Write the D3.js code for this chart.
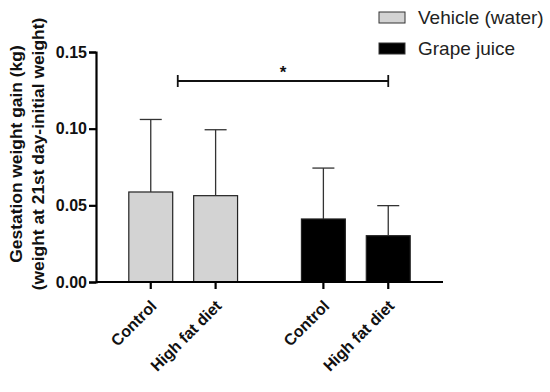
<!DOCTYPE html>
<html>
<head>
<meta charset="utf-8">
<script src="https://cdn.jsdelivr.net/npm/d3@7"></script>
<style>
  body { margin: 0; background: #fff; }
  svg text { font-family: "Liberation Sans", Arial, sans-serif; }
</style>
</head>
<body>
<svg id="chart" width="550" height="392"></svg>
<script>
// data
const groups = ['Vehicle (water)', 'Grape juice'];
const categories = ['Control', 'High fat diet'];
const means = [0.0587, 0.0563, 0.0411, 0.0302];
const sds = [0.0473, 0.0430, 0.0332, 0.0196];
const yTicks = [0.00, 0.05, 0.10, 0.15];
const groupColors = ['#d3d3d3', '#000000'];

const svg = d3.select('#chart');
const margin = { top: 52, left: 96, bottom: 110, right: 107 };
const width = 550 - margin.left - margin.right;
const height = 392 - margin.top - margin.bottom;

const chart = svg.append('g')
  .attr('transform', `translate(${margin.left},${margin.top})`);

const bars = [];
groups.forEach((g, gi) => categories.forEach((c, ci) => {
  bars.push({ group: g, gi: gi, label: c, mean: means[gi * 2 + ci], sd: sds[gi * 2 + ci] });
}));

// outer scale for the two groups, inner scale for the bars inside a group
const x0 = d3.scaleBand().domain(groups).range([0, width]).paddingInner(0.37).paddingOuter(0.19);
const x1 = d3.scaleBand().domain(categories).range([0, x0.bandwidth()]).paddingInner(0.323);
const y = d3.scaleLinear().domain([0, 0.15]).range([height, 0]);

const bx = d => x0(d.group) + x1(d.label);
const cx = d => bx(d) + x1.bandwidth() / 2;

// bars
chart.selectAll('rect.bar')
  .data(bars)
  .enter().append('rect')
    .attr('class', 'bar')
    .attr('x', bx)
    .attr('y', d => y(d.mean))
    .attr('width', x1.bandwidth())
    .attr('height', d => y(0) - y(d.mean))
    .attr('fill', d => groupColors[d.gi])
    .attr('stroke', '#222')
    .attr('stroke-width', 1.2);

// upper error bars
const cap = 11;
const err = chart.selectAll('g.err')
  .data(bars)
  .enter().append('g')
    .attr('class', 'err')
    .attr('stroke', '#333')
    .attr('stroke-width', 1.3);
err.append('line')
  .attr('x1', cx).attr('x2', cx)
  .attr('y1', d => y(d.mean))
  .attr('y2', d => y(d.mean + d.sd));
err.append('line')
  .attr('x1', d => cx(d) - cap)
  .attr('x2', d => cx(d) + cap)
  .attr('y1', d => y(d.mean + d.sd))
  .attr('y2', d => y(d.mean + d.sd));

// y axis
const yAxis = chart.append('g')
  .call(d3.axisLeft(y).tickValues(yTicks).tickFormat(d3.format('.2f')).tickSizeOuter(0).tickSize(7));
yAxis.select('.domain').attr('stroke-width', 2.2);
yAxis.selectAll('.tick line').attr('stroke-width', 2.2);
yAxis.selectAll('.tick text')
  .attr('font-size', 16).attr('font-weight', 'bold').attr('fill', '#111')
  .attr('font-family', '"Liberation Sans", Arial, sans-serif')
  .attr('x', -9);

// x axis line
chart.append('line')
  .attr('x1', 0).attr('x2', width)
  .attr('y1', y(0)).attr('y2', y(0))
  .attr('stroke', '#000').attr('stroke-width', 2.2);

// x ticks and rotated labels
const xt = chart.selectAll('g.xtick')
  .data(bars)
  .enter().append('g')
    .attr('class', 'xtick')
    .attr('transform', d => `translate(${cx(d)},${y(0)})`);
xt.append('line').attr('y1', 0).attr('y2', 7).attr('stroke', '#000').attr('stroke-width', 2.2);
xt.append('text')
  .text(d => d.label)
  .attr('transform', 'translate(7,25) rotate(-45)')
  .attr('text-anchor', 'end')
  .attr('font-size', 16).attr('font-weight', 'bold').attr('fill', '#111');

// y title
const yTitle = svg.append('g').attr('transform', 'translate(0,154) rotate(-90)');
yTitle.append('text').text('Gestation weight gain (kg)')
  .attr('x', 0).attr('y', 22).attr('text-anchor', 'middle')
  .attr('font-size', 17.4).attr('font-weight', 'bold').attr('fill', '#111');
yTitle.append('text').text('(weight at 21st day-initial weight)')
  .attr('x', 0).attr('y', 44).attr('text-anchor', 'middle')
  .attr('font-size', 17.4).attr('font-weight', 'bold').attr('fill', '#111');

// significance bracket
const sigY = 81 - margin.top;
const sx1 = cx(bars[0]) + 27;
const sx2 = cx(bars[3]);
const sig = chart.append('g').attr('stroke', '#111').attr('stroke-width', 1.8);
sig.append('line').attr('x1', sx1).attr('x2', sx2).attr('y1', sigY).attr('y2', sigY);
sig.append('line').attr('x1', sx1).attr('x2', sx1).attr('y1', sigY - 6).attr('y2', sigY + 6);
sig.append('line').attr('x1', sx2).attr('x2', sx2).attr('y1', sigY - 6).attr('y2', sigY + 6);
chart.append('text').text('*')
  .attr('x', (sx1 + sx2) / 2).attr('y', sigY - 3)
  .attr('text-anchor', 'middle').attr('font-size', 17).attr('font-weight', 'bold').attr('fill', '#111');

// legend
const legend = svg.append('g').attr('transform', 'translate(379,12)');
const li = legend.selectAll('g')
  .data(groups)
  .enter().append('g')
    .attr('transform', (d, i) => `translate(0,${i * 31})`);
li.append('rect')
  .attr('width', 26).attr('height', 11)
  .attr('fill', (d, i) => groupColors[i])
  .attr('stroke', '#333').attr('stroke-width', 1);
li.append('text')
  .text(d => d)
  .attr('x', 39).attr('y', 12)
  .attr('font-size', 19).attr('fill', '#222');
</script>
</body>
</html>
